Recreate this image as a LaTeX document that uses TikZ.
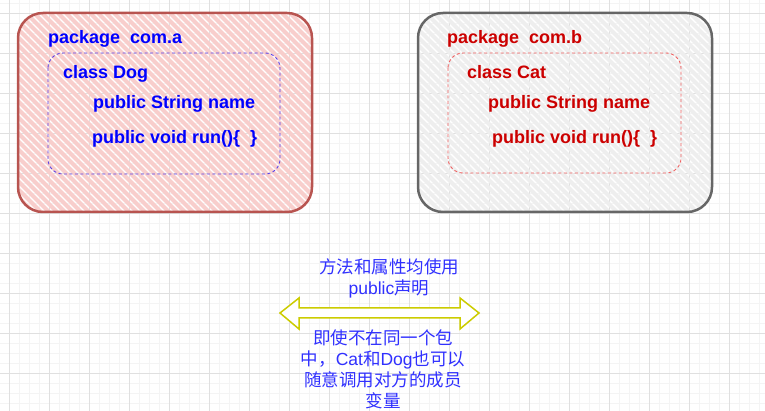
\documentclass[tikz,border=0pt]{standalone}
\usepackage{fontspec}
\setmainfont{Liberation Sans}
\newfontfamily\cjk{Noto Sans CJK SC}
\definecolor{pinkfill}{HTML}{F8CECC}
\definecolor{redline}{HTML}{B85450}
\definecolor{grayfill}{HTML}{EEEEEE}
\definecolor{grayline}{HTML}{666666}
\definecolor{codeblue}{HTML}{0000FF}
\definecolor{codered}{HTML}{CC0000}
\definecolor{dashblue}{HTML}{5A40E8}
\definecolor{dashred}{HTML}{F06060}
\definecolor{noteblue}{HTML}{3030FF}
\definecolor{arrowyellow}{HTML}{CCCC00}
\definecolor{gridmajor}{HTML}{E0E0E0}
\definecolor{gridminor}{HTML}{F4F4F4}
\tikzset{
  codetext/.style={
    anchor=base west,
    inner sep=0pt,
    font=\bfseries\fontsize{18}{21}\selectfont
  },
  notetext/.style={
    anchor=base,
    align=center,
    inner sep=0pt,
    text=noteblue,
    font=\fontsize{17.5}{21}\selectfont
  },
  package/.style={
    line width=2.5pt,
    rounded corners=25pt
  },
  classbox/.style={
    line width=0.9pt,
    dash pattern=on 3pt off 2.5pt,
    rounded corners=15pt
  }
}
\begin{document}
\begin{tikzpicture}[x=1pt,y=-1pt]
  \useasboundingbox (0,0) rectangle (765,411);
  % Grid
  \foreach \gx in {-1,9,...,769} \draw[gridminor, line width=0.8pt] (\gx,0) -- (\gx,411);
  \foreach \gy in {3,13,...,413} \draw[gridminor, line width=0.8pt] (0,\gy) -- (765,\gy);
  \foreach \gx in {9,49,...,769} \draw[gridmajor, line width=0.8pt] (\gx,0) -- (\gx,411);
  \foreach \gy in {13,53,...,413} \draw[gridmajor, line width=0.8pt] (0,\gy) -- (765,\gy);

  % Package com.a
  \begin{scope}
    \clip[rounded corners=25pt] (18,13) rectangle (312,212);
    \foreach \k in {-216,-208,...,300}
      \draw[pinkfill, line width=4.2pt] (18+\k,13) -- ++(220,220);
  \end{scope}
  \draw[package, redline] (18,13) rectangle (312,212);
  \draw[classbox, dashblue] (48,53) rectangle (280,174);
  \node[codetext, text=codeblue] (pkgA) at (48,44) {package\ \ com.a};
  \node[codetext, text=codeblue] (clsDog) at (63,79) {class Dog};
  \node[codetext, text=codeblue] (dogName) at (93,109) {public String name};
  \node[codetext, text=codeblue] (dogRun) at (92,144) {public void run()\{\ \ \}};

  % Package com.b
  \begin{scope}
    \clip[rounded corners=25pt] (418,13) rectangle (712,212);
    \foreach \k in {-216,-208,...,300}
      \draw[grayfill, line width=4.2pt] (418+\k,13) -- ++(220,220);
  \end{scope}
  \draw[package, grayline] (418,13) rectangle (712,212);
  \draw[classbox, dashred] (448,53) rectangle (681,173);
  \node[codetext, text=codered] (pkgB) at (447,44) {package\ \ com.b};
  \node[codetext, text=codered] (clsCat) at (467,79) {class Cat};
  \node[codetext, text=codered] (catName) at (488,109) {public String name};
  \node[codetext, text=codered] (catRun) at (492,144) {public void run()\{\ \ \}};

  % Double arrow
  \draw[arrowyellow, line width=1.5pt, fill=white, line join=miter]
    (280,313) -- (299,298) -- (299,308) -- (460,308) -- (460,298) -- (479,313)
    -- (460,329) -- (460,318) -- (299,318) -- (299,329) -- cycle;

  % Notes (base = last line)
  \node[notetext] (noteTop) at (389,295)
    {{\cjk 方法和属性均使用}\\public{\cjk 声明}};
  \node[notetext] (noteBottom) at (383,407)
    {{\cjk 即使不在同一个包}\\{\cjk 中，}Cat{\cjk 和}Dog{\cjk 也可以}\\{\cjk 随意调用对方的成员}\\{\cjk 变量}};
\end{tikzpicture}
\end{document}
